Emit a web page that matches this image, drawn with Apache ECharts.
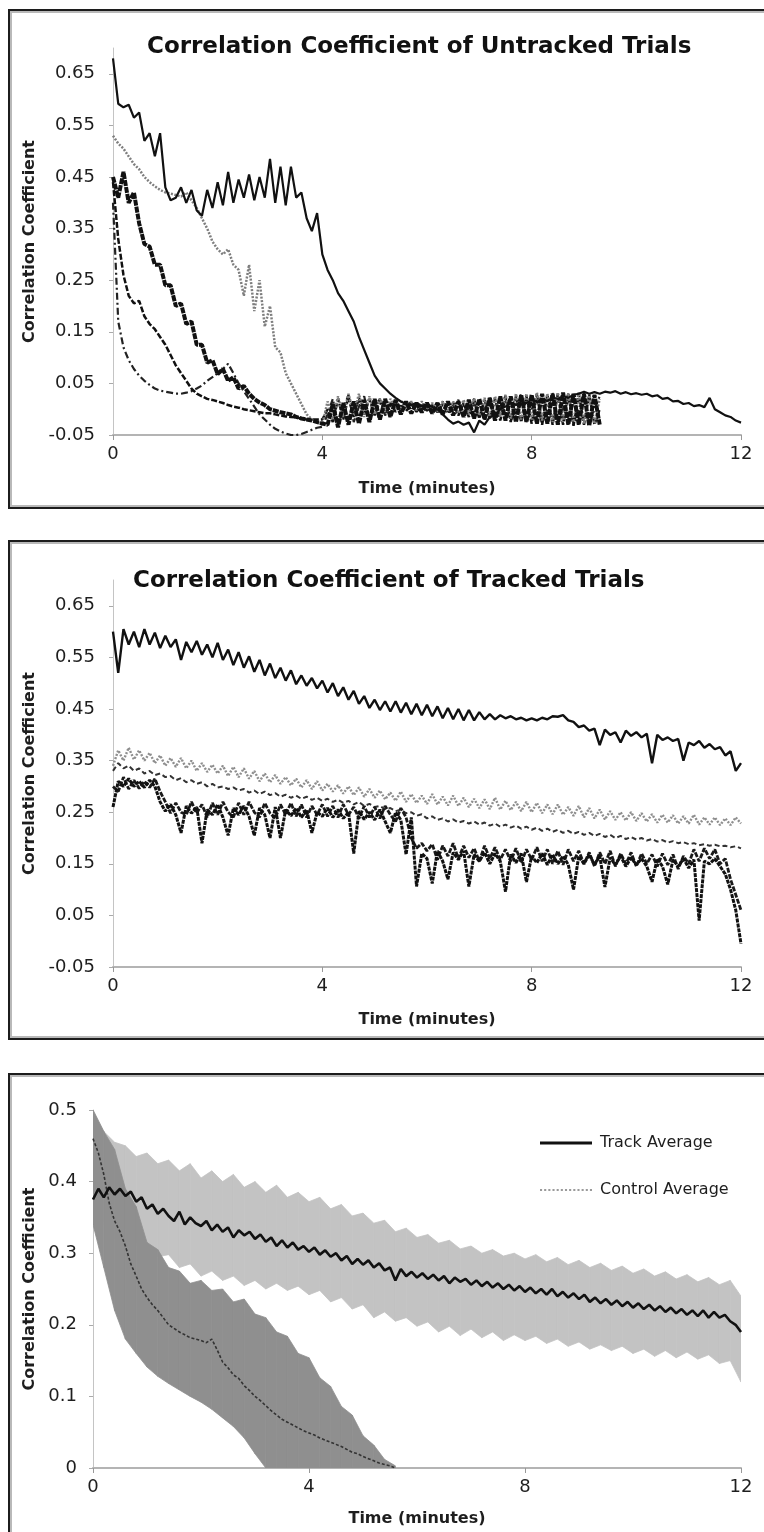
<!DOCTYPE html>
<html lang="en">
<head>
<meta charset="UTF-8">
<title>Correlation Coefficient</title>
<script src="https://cdn.jsdelivr.net/npm/echarts@6.0.0/dist/echarts.min.js"></script>
<style>
    body { margin: 0; background: #fff; }
    .frame {
        position: absolute;
        left: 8px;
        width: 780px;
        border: 2px solid #1c1c1c;
        box-shadow: inset 0 0 0 2px #b9b9b9;
        background: #fff;
    }
    #main { position: absolute; left: 0; top: 0; width: 764px; height: 1532px; }
</style>
</head>
<body>
<div class="frame" style="top:9px;height:496px;"></div>
<div class="frame" style="top:540px;height:496px;"></div>
<div class="frame" style="top:1073px;height:480px;"></div>
<div id="main"></div>
<script type="text/javascript">
    // time grid (minutes)
    var times = [0,0.1,0.2,0.3,0.4,0.5,0.6,0.7,0.8,0.9,
        1,1.1,1.2,1.3,1.4,1.5,1.6,1.7,1.8,1.9,
        2,2.1,2.2,2.3,2.4,2.5,2.6,2.7,2.8,2.9,
        3,3.1,3.2,3.3,3.4,3.5,3.6,3.7,3.8,3.9,
        4,4.1,4.2,4.3,4.4,4.5,4.6,4.7,4.8,4.9,
        5,5.1,5.2,5.3,5.4,5.5,5.6,5.7,5.8,5.9,
        6,6.1,6.2,6.3,6.4,6.5,6.6,6.7,6.8,6.9,
        7,7.1,7.2,7.3,7.4,7.5,7.6,7.7,7.8,7.9,
        8,8.1,8.2,8.3,8.4,8.5,8.6,8.7,8.8,8.9,
        9,9.1,9.2,9.3,9.4,9.5,9.6,9.7,9.8,9.9,
        10,10.1,10.2,10.3,10.4,10.5,10.6,10.7,10.8,10.9,
        11,11.1,11.2,11.3,11.4,11.5,11.6,11.7,11.8,11.9,
        12];
    var times5 = [0,0.2,0.4,0.6,0.8,1,1.2,1.4,1.6,1.8,
        2,2.2,2.4,2.6,2.8,3,3.2,3.4,3.6,3.8,
        4,4.2,4.4,4.6,4.8,5,5.2,5.4,5.6,5.8,
        6,6.2,6.4,6.6,6.8,7,7.2,7.4,7.6,7.8,
        8,8.2,8.4,8.6,8.8,9,9.2,9.4,9.6,9.8,
        10,10.2,10.4,10.6,10.8,11,11.2,11.4,11.6,11.8,
        12];

    var yTicksTrials = [-0.05,0.05,0.15,0.25,0.35,0.45,0.55,0.65];
    var yTicksAvg = [0,0.1,0.2,0.3,0.4,0.5];

    // Untracked trials
    var u1Solid = [0.68,0.592,0.585,0.59,0.565,0.575,0.52,0.535,0.49,0.535,
        0.43,0.405,0.41,0.43,0.40,0.425,0.385,0.375,0.425,0.39,
        0.44,0.395,0.46,0.40,0.445,0.41,0.455,0.405,0.45,0.41,
        0.485,0.40,0.47,0.395,0.47,0.41,0.42,0.37,0.345,0.38,
        0.30,0.27,0.25,0.225,0.21,0.19,0.17,0.14,0.115,0.09,
        0.065,0.05,0.04,0.03,0.022,0.015,0.01,0.008,0.012,0.006,
        0.01,0.004,0.0,-0.01,-0.02,-0.028,-0.024,-0.03,-0.026,-0.045,
        -0.022,-0.03,-0.015,-0.012,0.0,0.005,0.012,0.008,0.015,0.012,
        0.018,0.014,0.02,0.016,0.022,0.02,0.025,0.022,0.028,0.03,
        0.034,0.03,0.033,0.03,0.034,0.032,0.035,0.03,0.033,0.029,
        0.031,0.028,0.03,0.025,0.027,0.02,0.022,0.015,0.016,0.01,
        0.012,0.006,0.008,0.004,0.022,0.0,-0.006,-0.012,-0.015,-0.022,
        -0.026];
    var u1Gray = [0.53,0.515,0.505,0.49,0.475,0.465,0.45,0.44,0.432,0.425,
        0.42,0.418,0.415,0.412,0.42,0.405,0.39,0.37,0.35,0.325,
        0.31,0.30,0.31,0.28,0.27,0.22,0.28,0.19,0.25,0.16,
        0.2,0.12,0.11,0.07,0.05,0.03,0.01,-0.01,-0.02,-0.025,
        -0.03,0.015,-0.02,0.025,-0.015,0.03,-0.01,0.03,-0.015,0.025,
        -0.01,0.02,-0.005,0.02,0.0,0.018,0.0,0.015,-0.002,0.015,
        0.0,0.012,-0.005,0.015,-0.005,0.015,-0.008,0.018,-0.01,0.02,
        -0.012,0.022,-0.015,0.025,-0.015,0.028,-0.018,0.03,-0.02,0.03,
        -0.02,0.032,-0.022,0.03,-0.025,0.032,-0.025,0.03,-0.025,0.033,
        -0.028,0.03,-0.028,0.02];
    var u1Heavy = [0.45,0.41,0.46,0.40,0.42,0.36,0.32,0.315,0.28,0.28,
        0.24,0.24,0.2,0.205,0.165,0.17,0.125,0.125,0.09,0.095,
        0.068,0.078,0.055,0.062,0.04,0.045,0.03,0.02,0.013,0.008,
        0.0,-0.003,-0.006,-0.008,-0.01,-0.015,-0.018,-0.02,-0.022,-0.025,
        -0.028,-0.03,0.01,-0.035,0.012,-0.03,0.015,-0.028,0.018,-0.025,
        0.02,-0.02,0.02,-0.015,0.018,-0.01,0.015,-0.008,0.012,-0.006,
        0.012,-0.008,0.012,-0.01,0.015,-0.012,0.015,-0.015,0.018,-0.018,
        0.02,-0.02,0.022,-0.022,0.025,-0.022,0.025,-0.025,0.028,-0.025,
        0.028,-0.028,0.03,-0.028,0.03,-0.03,0.032,-0.03,0.03,-0.03,
        0.03,-0.032,0.028,-0.03];
    var u1Dash = [0.44,0.33,0.26,0.22,0.205,0.21,0.18,0.165,0.155,0.14,
        0.125,0.105,0.085,0.07,0.055,0.04,0.03,0.025,0.02,0.018,
        0.015,0.012,0.008,0.005,0.003,0.0,-0.002,-0.004,-0.006,-0.008,
        -0.008,-0.01,-0.012,-0.014,-0.015,-0.016,-0.018,-0.02,-0.02,-0.02,
        -0.02,0.0,-0.025,0.02,-0.02,0.025,-0.015,0.022,-0.01,0.02,
        -0.012,0.015,-0.008,0.012,-0.005,0.01,-0.004,0.01,-0.005,0.008,
        -0.003,0.008,-0.006,0.01,-0.008,0.012,-0.012,0.012,-0.015,0.015,
        -0.018,0.018,-0.02,0.02,-0.022,0.022,-0.025,0.025,-0.025,0.025,
        -0.028,0.028,-0.03,0.028,-0.03,0.03,-0.03,0.028,-0.032,0.03,
        -0.03,0.028,-0.03,0.0];
    var u1DashDot = [0.40,0.17,0.12,0.095,0.078,0.065,0.055,0.047,0.04,0.036,
        0.034,0.032,0.03,0.03,0.032,0.035,0.04,0.046,0.055,0.062,
        0.07,0.078,0.088,0.07,0.05,0.035,0.02,0.005,-0.01,-0.02,
        -0.03,-0.038,-0.043,-0.047,-0.05,-0.05,-0.048,-0.044,-0.04,-0.036,
        -0.034,-0.01,0.02,-0.03,0.0,0.028,-0.025,0.005,0.025,-0.02,
        0.005,0.02,-0.012,0.006,0.016,-0.006,0.006,0.014,-0.004,0.008,
        0.012,-0.006,0.006,0.015,-0.008,0.004,0.018,-0.012,0.002,0.02,
        -0.016,0.0,0.024,-0.02,0.002,0.026,-0.022,0.0,0.03,-0.025,
        0.0,0.03,-0.028,0.0,0.032,-0.03,0.0,0.03,-0.03,0.0,
        0.032,-0.03,0.0,0.025];

    // Tracked trials
    var t2Solid = [0.60,0.52,0.605,0.575,0.60,0.57,0.605,0.575,0.598,0.568,
        0.592,0.57,0.585,0.545,0.58,0.56,0.582,0.555,0.575,0.55,
        0.578,0.545,0.565,0.535,0.56,0.53,0.552,0.522,0.545,0.515,
        0.538,0.51,0.53,0.505,0.525,0.498,0.515,0.495,0.51,0.49,
        0.505,0.482,0.5,0.475,0.492,0.468,0.485,0.46,0.475,0.452,
        0.468,0.448,0.465,0.445,0.465,0.443,0.462,0.44,0.46,0.438,
        0.458,0.436,0.455,0.432,0.452,0.43,0.45,0.428,0.448,0.428,
        0.444,0.43,0.44,0.43,0.438,0.432,0.436,0.43,0.433,0.428,
        0.432,0.428,0.433,0.43,0.436,0.435,0.438,0.428,0.425,0.415,
        0.418,0.408,0.412,0.38,0.41,0.40,0.405,0.385,0.408,0.398,
        0.405,0.395,0.402,0.345,0.40,0.39,0.395,0.388,0.392,0.35,
        0.385,0.38,0.388,0.375,0.382,0.372,0.376,0.36,0.368,0.33,
        0.345];
    var t2Gray = [0.34,0.37,0.35,0.375,0.352,0.37,0.35,0.365,0.345,0.36,
        0.34,0.355,0.338,0.355,0.335,0.35,0.33,0.345,0.328,0.342,
        0.325,0.34,0.32,0.338,0.318,0.335,0.315,0.33,0.31,0.325,
        0.308,0.322,0.305,0.318,0.302,0.315,0.298,0.312,0.295,0.31,
        0.292,0.305,0.29,0.302,0.286,0.30,0.283,0.298,0.28,0.295,
        0.278,0.292,0.275,0.288,0.272,0.29,0.27,0.285,0.268,0.282,
        0.266,0.285,0.265,0.28,0.263,0.282,0.262,0.278,0.26,0.276,
        0.258,0.275,0.256,0.278,0.255,0.272,0.254,0.27,0.252,0.27,
        0.25,0.268,0.248,0.265,0.246,0.265,0.245,0.26,0.243,0.262,
        0.24,0.258,0.238,0.255,0.236,0.252,0.235,0.25,0.234,0.25,
        0.233,0.248,0.232,0.246,0.23,0.245,0.23,0.244,0.228,0.242,
        0.228,0.245,0.226,0.24,0.226,0.24,0.225,0.238,0.225,0.24,
        0.228];
    var t2Dash = [0.33,0.345,0.335,0.34,0.33,0.335,0.325,0.33,0.322,0.325,
        0.318,0.32,0.312,0.316,0.308,0.312,0.305,0.308,0.30,0.305,
        0.298,0.30,0.295,0.298,0.292,0.295,0.288,0.292,0.285,0.29,
        0.283,0.287,0.28,0.284,0.278,0.282,0.276,0.28,0.274,0.278,
        0.272,0.276,0.27,0.274,0.268,0.272,0.265,0.27,0.262,0.266,
        0.26,0.262,0.256,0.258,0.252,0.255,0.248,0.25,0.243,0.246,
        0.238,0.242,0.235,0.238,0.232,0.236,0.23,0.233,0.228,0.232,
        0.226,0.23,0.224,0.228,0.222,0.226,0.22,0.224,0.218,0.222,
        0.216,0.22,0.214,0.218,0.212,0.216,0.21,0.214,0.208,0.212,
        0.206,0.21,0.204,0.208,0.202,0.206,0.20,0.204,0.198,0.202,
        0.197,0.20,0.195,0.198,0.193,0.196,0.191,0.194,0.19,0.192,
        0.188,0.19,0.186,0.188,0.185,0.187,0.184,0.185,0.182,0.184,
        0.18];
    var t2Heavy = [0.26,0.31,0.30,0.315,0.30,0.31,0.298,0.312,0.30,0.27,
        0.252,0.265,0.245,0.21,0.262,0.248,0.26,0.19,0.255,0.245,
        0.265,0.24,0.205,0.258,0.245,0.262,0.242,0.205,0.258,0.245,
        0.20,0.26,0.20,0.255,0.243,0.258,0.24,0.255,0.21,0.25,
        0.242,0.258,0.24,0.255,0.238,0.25,0.17,0.252,0.236,0.25,
        0.235,0.255,0.232,0.21,0.25,0.235,0.168,0.24,0.106,0.17,
        0.16,0.112,0.175,0.155,0.12,0.172,0.158,0.175,0.106,0.168,
        0.155,0.172,0.15,0.17,0.155,0.096,0.168,0.152,0.17,0.115,
        0.165,0.152,0.17,0.148,0.168,0.15,0.165,0.148,0.10,0.165,
        0.15,0.168,0.148,0.165,0.105,0.162,0.148,0.165,0.145,0.162,
        0.148,0.16,0.145,0.115,0.16,0.145,0.11,0.158,0.145,0.16,
        0.142,0.158,0.04,0.155,0.15,0.16,0.145,0.13,0.10,0.06,
        -0.005];
    var t2Dash2 = [0.30,0.29,0.318,0.295,0.312,0.296,0.31,0.298,0.315,0.29,
        0.27,0.248,0.268,0.25,0.245,0.27,0.248,0.265,0.24,0.268,
        0.245,0.27,0.25,0.24,0.268,0.245,0.27,0.25,0.24,0.268,
        0.248,0.238,0.265,0.245,0.268,0.242,0.265,0.24,0.262,0.245,
        0.265,0.242,0.262,0.24,0.265,0.245,0.26,0.238,0.262,0.24,
        0.26,0.238,0.262,0.245,0.232,0.258,0.24,0.20,0.18,0.19,
        0.175,0.188,0.158,0.185,0.165,0.19,0.16,0.185,0.162,0.18,
        0.155,0.185,0.16,0.182,0.158,0.178,0.155,0.18,0.152,0.178,
        0.158,0.182,0.155,0.178,0.15,0.175,0.148,0.178,0.155,0.175,
        0.15,0.172,0.145,0.172,0.15,0.175,0.145,0.17,0.15,0.172,
        0.145,0.17,0.15,0.168,0.145,0.17,0.148,0.168,0.14,0.165,
        0.15,0.178,0.155,0.18,0.16,0.178,0.15,0.16,0.12,0.09,
        0.06];

    // Averages with their spread
    var trackAvg = [0.375,0.39,0.378,0.392,0.382,0.39,0.38,0.386,0.372,0.378,
        0.362,0.368,0.355,0.362,0.352,0.345,0.358,0.34,0.35,0.342,
        0.338,0.345,0.332,0.34,0.33,0.336,0.322,0.332,0.325,0.33,
        0.32,0.326,0.316,0.322,0.31,0.318,0.308,0.315,0.305,0.31,
        0.302,0.308,0.298,0.304,0.295,0.30,0.29,0.296,0.285,0.292,
        0.284,0.29,0.28,0.286,0.276,0.28,0.262,0.278,0.268,0.274,
        0.266,0.272,0.264,0.27,0.262,0.268,0.258,0.266,0.26,0.264,
        0.256,0.262,0.254,0.26,0.252,0.258,0.25,0.256,0.248,0.254,
        0.246,0.252,0.244,0.25,0.242,0.25,0.24,0.246,0.238,0.244,
        0.236,0.242,0.232,0.238,0.23,0.236,0.228,0.234,0.226,0.232,
        0.224,0.23,0.222,0.228,0.22,0.226,0.218,0.224,0.216,0.222,
        0.214,0.22,0.212,0.22,0.21,0.218,0.21,0.214,0.205,0.20,
        0.19];
    var trackLow = [0.33,0.345,0.32,0.335,0.31,0.312,0.295,0.298,0.28,0.285,
        0.268,0.275,0.262,0.268,0.255,0.262,0.25,0.258,0.248,0.254,
        0.242,0.248,0.232,0.238,0.222,0.228,0.21,0.218,0.205,0.21,
        0.198,0.204,0.19,0.198,0.185,0.194,0.182,0.19,0.178,0.186,
        0.178,0.184,0.174,0.18,0.17,0.176,0.166,0.172,0.164,0.17,
        0.16,0.166,0.156,0.164,0.154,0.162,0.152,0.158,0.146,0.15,
        0.12];
    var trackHigh = [0.50,0.47,0.455,0.45,0.435,0.44,0.425,0.43,0.415,0.425,
        0.405,0.415,0.40,0.41,0.392,0.40,0.385,0.395,0.378,0.385,
        0.372,0.378,0.362,0.368,0.352,0.356,0.342,0.346,0.33,0.335,
        0.322,0.326,0.314,0.318,0.306,0.31,0.30,0.305,0.296,0.30,
        0.292,0.298,0.288,0.294,0.284,0.29,0.28,0.286,0.276,0.282,
        0.272,0.278,0.268,0.274,0.264,0.27,0.26,0.266,0.256,0.262,
        0.24];
    var controlAvg = [0.46,0.44,0.41,0.37,0.345,0.33,0.31,0.285,0.268,0.25,
        0.238,0.228,0.22,0.21,0.20,0.195,0.19,0.186,0.182,0.18,
        0.178,0.175,0.18,0.165,0.148,0.14,0.13,0.125,0.115,0.108,
        0.10,0.094,0.087,0.08,0.074,0.068,0.064,0.06,0.056,0.052,
        0.049,0.046,0.042,0.039,0.036,0.033,0.03,0.026,0.022,0.02,
        0.016,0.013,0.01,0.007,0.005,0.003,0.0];
    var controlLow = [0.34,0.28,0.22,0.18,0.16,0.141,0.128,0.118,0.109,0.10,
        0.092,0.082,0.07,0.058,0.042,0.02,0.0,0,0,0,
        0,0,0,0,0,0,0,0,0];
    var controlHigh = [0.50,0.47,0.445,0.39,0.365,0.315,0.305,0.28,0.275,0.258,
        0.262,0.248,0.25,0.232,0.236,0.215,0.21,0.19,0.184,0.16,
        0.154,0.126,0.114,0.086,0.074,0.045,0.032,0.012,0.003];

    function pairs(t, v) {
        return v.map(function (y, i) { return [t[i], y]; });
    }

    var FONT = 'DejaVu Sans';
    var TXT = '#1e1e1e';

    function xAxisFor(gi, gap) {
        return {
            type: 'value', gridIndex: gi, min: 0, max: 12, interval: 4,
            name: 'Time (minutes)', nameLocation: 'middle', nameGap: gap,
            nameTextStyle: { fontFamily: FONT, fontWeight: 'bold', fontSize: 16, color: TXT },
            axisLine: { onZero: false, lineStyle: { color: '#b4b4b4', width: 2 } },
            axisTick: { show: true, length: 5, lineStyle: { color: '#999' } },
            axisLabel: { fontFamily: FONT, fontSize: 18, color: TXT, margin: 10 },
            splitLine: { show: false }
        };
    }
    function yAxisFor(gi, min, max, ticks, digits, gap, margin) {
        return {
            type: 'value', gridIndex: gi, min: min, max: max,
            name: 'Correlation Coefficient', nameLocation: 'middle', nameGap: gap,
            nameTextStyle: { fontFamily: FONT, fontWeight: 'bold', fontSize: 16, color: TXT },
            axisLine: { show: true, onZero: false, lineStyle: { color: '#c4c4c4', width: 1 } },
            axisTick: { show: true, length: 4, customValues: ticks, lineStyle: { color: '#aaa' } },
            axisLabel: {
                fontFamily: FONT, fontSize: 18, color: TXT, margin: margin,
                customValues: ticks,
                formatter: function (v) { return digits ? v.toFixed(digits) : String(+v.toFixed(1)); }
            },
            splitLine: { show: false }
        };
    }
    function line(name, gi, data, color, width, type, z) {
        return {
            name: name, type: 'line', xAxisIndex: gi, yAxisIndex: gi,
            data: data, symbol: 'none', showSymbol: false, z: z || 2,
            lineStyle: { color: color, width: width, type: type || 'solid' },
            itemStyle: { color: color },
            emphasis: { disabled: true }
        };
    }
    // filled spread between a low and a high curve, drawn segment by segment
    function band(gi, t, lo, hi, fill, z) {
        return {
            type: 'custom', xAxisIndex: gi, yAxisIndex: gi, z: z, silent: true, clip: true,
            data: hi.map(function (h, i) { return [t[i], lo[i], h]; }),
            encode: { x: 0, y: [1, 2] },
            renderItem: function (params, api) {
                var i = params.dataIndex;
                if (i >= hi.length - 1) return;
                var pts = [
                    api.coord([t[i], hi[i]]), api.coord([t[i + 1], hi[i + 1]]),
                    api.coord([t[i + 1], lo[i + 1]]), api.coord([t[i], lo[i]])
                ];
                return { type: 'polygon', shape: { points: pts },
                         style: { fill: fill, stroke: fill, lineWidth: 0.8 } };
            }
        };
    }

    var dotted = 'path://M0,0h2v2h-2zM4,0h2v2h-2zM8,0h2v2h-2zM12,0h2v2h-2zM16,0h2v2h-2zM20,0h2v2h-2zM24,0h2v2h-2zM28,0h2v2h-2zM32,0h2v2h-2zM36,0h2v2h-2zM40,0h2v2h-2zM44,0h2v2h-2zM48,0h2v2h-2z';

    var chart = echarts.init(document.getElementById('main'));
    var option = {
        animation: false,
        backgroundColor: 'transparent',
        title: [
            { text: 'Correlation Coefficient of Untracked Trials', left: 147, top: 36, padding: 0,
              textStyle: { fontFamily: FONT, fontWeight: 'bold', fontSize: 23, color: '#111' } },
            { text: 'Correlation Coefficient of Tracked Trials', left: 133, top: 570, padding: 0,
              textStyle: { fontFamily: FONT, fontWeight: 'bold', fontSize: 23, color: '#111' } }
        ],
        legend: {
            left: 535, top: 1130, orient: 'vertical', itemGap: 31,
            itemWidth: 52, itemHeight: 3,
            textStyle: { fontFamily: FONT, fontSize: 16, color: TXT, padding: [0, 0, 0, 3] },
            data: [
                { name: 'Track Average', icon: 'rect', itemStyle: { color: '#111' } },
                { name: 'Control Average', icon: dotted, itemStyle: { color: '#9a9a9a' } }
            ]
        },
        grid: [
            { left: 113, top: 48, width: 628, height: 387 },
            { left: 113, top: 580, width: 628, height: 387 },
            { left: 93, top: 1110, width: 648, height: 358 }
        ],
        xAxis: [xAxisFor(0, 46), xAxisFor(1, 45), xAxisFor(2, 43)],
        yAxis: [
            yAxisFor(0, -0.05, 0.70, yTicksTrials, 2, 73, 18),
            yAxisFor(1, -0.05, 0.70, yTicksTrials, 2, 73, 18),
            yAxisFor(2, 0, 0.5, yTicksAvg, 0, 54, 16)
        ],
        series: [
            // untracked
            line('u-dashdot', 0, pairs(times, u1DashDot), '#222', 2.2, [7, 3, 2, 3]),
            line('u-dash', 0, pairs(times, u1Dash), '#111', 2.5, [6, 2]),
            line('u-gray', 0, pairs(times, u1Gray), '#7e7e7e', 2.5, [2, 1.5]),
            line('u-heavy', 0, pairs(times, u1Heavy), '#111', 4, [6, 1]),
            line('u-solid', 0, pairs(times, u1Solid), '#111', 2.2, 'solid', 3),
            // tracked
            line('t-gray', 1, pairs(times, t2Gray), '#8e8e8e', 2.4, [2, 1.5]),
            line('t-dash', 1, pairs(times, t2Dash), '#333', 2, [5, 3]),
            line('t-dash2', 1, pairs(times, t2Dash2), '#1a1a1a', 2.8, [5, 1.5]),
            line('t-heavy', 1, pairs(times, t2Heavy), '#111', 3, [4, 1]),
            line('t-solid', 1, pairs(times, t2Solid), '#111', 2.4, 'solid', 3),
            // averages with spread bands
            band(2, times5, trackLow, trackHigh, '#c3c3c3', 1),
            band(2, times5, controlLow, controlHigh, '#8f8f8f', 2),
            line('Control Average', 2, pairs(times, controlAvg), '#333', 1.6, [3, 2], 3),
            line('Track Average', 2, pairs(times, trackAvg), '#111', 2.6, 'solid', 4)
        ]
    };
    chart.setOption(option);
</script>
</body>
</html>
